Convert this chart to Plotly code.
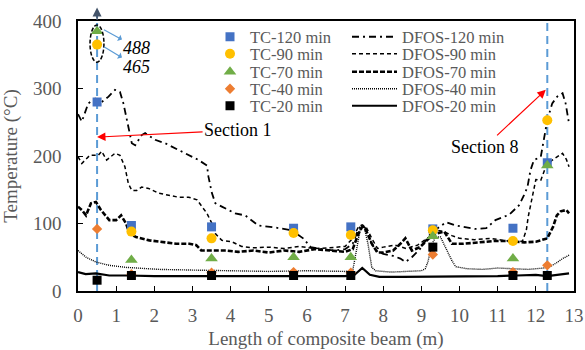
import plotly.graph_objects as go

# ---------------- data ----------------
tc_x = [0.5, 1.4, 3.5, 5.65, 7.15, 9.3, 11.4, 12.3]
tc_120 = [280, 97, 95, 93, 95, 92, 93, 190]
tc_90 = [365, 88, 78, 86, 83, 90, 74, 253]
tc_70 = [385, 46, 48, 50, 50, 81, 48, 186]
tc_40 = [92, 25, 27, 28, 27, 54, 28, 38]
tc_20 = [16, 23, 23, 23, 23, 65, 23, 23]

dfos120_x = [0, 0.1, 0.27, 0.45, 0.58, 0.8, 0.97, 1.1, 1.19, 1.32, 1.41, 1.5, 1.67, 1.76, 2.02, 2.28,
             2.55, 2.81, 3.16, 3.38, 3.42, 3.51, 3.6, 3.77, 4.12, 4.38, 4.73, 5.17, 5.6, 5.9, 6.1, 6.4,
             6.7, 7.0, 7.2, 7.35, 7.45, 7.55, 7.7, 7.8, 8.0, 8.26, 8.45, 8.58, 8.75, 8.96, 9.2, 9.4,
             9.65, 9.9, 10.1, 10.4, 10.7, 10.94, 11.3, 11.56, 11.69, 11.78, 11.86, 11.95, 12.13,
             12.21, 12.3, 12.43, 12.56, 12.7, 12.78, 12.87]
dfos120_y = [262, 251, 278, 285, 278, 288, 298, 295, 278, 243, 219, 216, 231, 234, 224, 219,
             211, 204, 194, 186, 169, 145, 130, 125, 115, 112, 97, 94, 90, 78, 65, 62,
             60, 62, 70, 92, 98, 92, 70, 60, 55, 52, 48, 43, 50, 62, 82, 92,
             102, 97, 95, 92, 93, 105, 113, 127, 142, 154, 179, 194, 199,
             224, 253, 278, 288, 293, 278, 248]

dfos90_x = [0, 0.1, 0.31, 0.53, 0.62, 0.75, 0.97, 1.1, 1.23, 1.32, 1.41, 1.54, 1.67, 1.85, 2.11,
            2.37, 2.63, 2.9, 3.12, 3.25, 3.38, 3.51, 3.6, 3.77, 4.03, 4.29, 4.6, 5.0, 5.4, 5.8, 6.2,
            6.6, 7.0, 7.2, 7.35, 7.45, 7.55, 7.7, 7.85, 8.0, 8.3, 8.6, 8.9, 9.2, 9.4, 9.6, 9.8,
            10.0, 10.4, 10.8, 11.2, 11.5, 11.65, 11.75, 11.8, 11.9, 12.0, 12.13, 12.26, 12.43,
            12.6, 12.7, 12.8, 12.87]
dfos90_y = [199, 189, 201, 201, 207, 194, 204, 201, 184, 159, 149, 149, 154, 152, 145,
            142, 139, 139, 135, 125, 115, 100, 85, 75, 73, 66, 64, 65, 63, 66, 63,
            64, 66, 78, 95, 98, 95, 78, 63, 65, 68, 63, 68, 80, 90, 88, 82,
            78, 76, 78, 74, 72, 74, 90, 110, 140, 165, 164, 184, 194,
            200, 204, 195, 184]

dfos70_x = [0, 0.1, 0.21, 0.34, 0.47, 0.6, 0.82, 1.0, 1.13, 1.26, 1.35, 1.52, 1.87, 2.22, 2.57,
            2.92, 3.1, 3.23, 3.62, 3.88, 4.2, 4.6, 5.0, 5.4, 5.8, 6.2, 6.6, 7.0, 7.2, 7.35, 7.45,
            7.55, 7.7, 7.85, 8.0, 8.26, 8.45, 8.58, 8.75, 8.96, 9.2, 9.4, 9.6, 9.8, 10.1, 10.5,
            10.9, 11.3, 11.7, 12.0, 12.3, 12.45, 12.55, 12.65, 12.8, 12.87]
dfos70_y = [125, 120, 112, 130, 132, 120, 105, 105, 112, 100, 85, 80, 75, 73, 70,
            70, 68, 60, 60, 60, 58, 60, 57, 60, 58, 62, 60, 58, 62, 85, 95,
            90, 70, 57, 57, 60, 70, 78, 60, 65, 78, 85, 88, 70, 70, 72,
            74, 74, 72, 73, 78, 95, 112, 118, 120, 115]

dfos40_x = [0, 0.21, 0.47, 0.82, 1.26, 2.13, 3.0, 3.9, 5.0, 6.0, 7.0, 7.2, 7.3, 7.4, 7.5, 7.6,
            7.7, 7.8, 8.2, 8.6, 9.0, 9.1, 9.17, 9.28, 9.38, 9.5, 9.65, 9.8, 9.9, 10.2, 10.6,
            11.0, 11.4, 11.8, 12.2, 12.4, 12.55, 12.7, 12.87]
dfos40_y = [60, 50, 43, 38, 35, 32, 31, 30, 29, 30, 29, 30, 60, 92, 95, 70,
            35, 30, 28, 29, 30, 33, 43, 70, 80, 80, 62, 45, 36, 33, 32,
            34, 33, 32, 34, 37, 42, 48, 53]

dfos20_x = [0, 0.2, 0.47, 0.82, 1.3, 2.0, 3.0, 4.0, 5.0, 6.0, 7.0, 7.25, 7.45, 7.65, 7.9, 8.5,
            9.0, 9.5, 10.0, 10.5, 11.0, 11.5, 12.0, 12.3, 12.6, 12.87]
dfos20_y = [28, 25, 26, 23, 23, 22, 22, 22, 22, 22, 22, 24, 34, 24, 21, 21,
            21, 22, 22, 22, 22, 23, 24, 22, 24, 26]

section_x = [0.5, 12.3]
x_ticks = list(range(0, 14))
y_ticks = [0, 100, 200, 300, 400]

# ---------------- figure ----------------
FONT = "Liberation Serif"
GREY = "#595959"
W, H = 585, 350
ML, MR, MT, MB = 78, 11, 21, 59
PW, PH = W - ML - MR, H - MT - MB

fig = go.Figure()

line_specs = [
    ("DFOS-120 min", dfos120_x, dfos120_y, dict(color="black", width=1.8, dash="7px,4px,2px,4px")),
    ("DFOS-90 min", dfos90_x, dfos90_y, dict(color="black", width=1.5, dash="4px,3px")),
    ("DFOS-70 min", dfos70_x, dfos70_y, dict(color="black", width=2.6, dash="5px,2px")),
    ("DFOS-40 min", dfos40_x, dfos40_y, dict(color="black", width=1.4, dash="1px,1px")),
    ("DFOS-20 min", dfos20_x, dfos20_y, dict(color="black", width=2.2)),
]
marker_specs = [
    ("TC-120 min", tc_120, dict(symbol="square", color="#4472C4", size=9)),
    ("TC-90 min", tc_90, dict(symbol="circle", color="#FFC000", size=10)),
    ("TC-70 min", tc_70, dict(symbol="triangle-up", color="#70AD47", size=11)),
    ("TC-40 min", tc_40, dict(symbol="diamond", color="#ED7D31", size=8)),
    ("TC-20 min", tc_20, dict(symbol="square", color="black", size=9)),
]

row_y = [37, 54, 72, 89, 106]  # legend rows, px from top

for i, (name, xs, ys, ln) in enumerate(line_specs):
    lg = "legend" + str(2 * i + 2)
    fig.add_trace(go.Scatter(x=xs, y=ys, mode="lines", name=name, line=ln, legend=lg))
for i, (name, ys, mk) in enumerate(marker_specs):
    lg = "legend" if i == 0 else "legend" + str(2 * i + 1)
    fig.add_trace(go.Scatter(x=tc_x, y=ys, mode="markers", name=name, marker=mk, legend=lg))

def px_to_paper(px, py):
    return (px - ML) / PW, (H - MB - py) / PH

legend_layout = {}
for i in range(5):
    tc_key = "legend" if i == 0 else "legend" + str(2 * i + 1)
    df_key = "legend" + str(2 * i + 2)
    common = dict(xref="paper", yref="paper", yanchor="middle", xanchor="left",
                  bgcolor="rgba(0,0,0,0)", borderwidth=0,
                  font=dict(family=FONT, size=16.5, color=GREY))
    xt, yt = px_to_paper(210, row_y[i])
    xd, _ = px_to_paper(347, row_y[i])
    legend_layout[tc_key] = dict(common, x=xt, y=yt, itemwidth=30)
    legend_layout[df_key] = dict(common, x=xd, y=yt, itemwidth=45)

shapes = [
    dict(type="line", xref="x", yref="paper", x0=section_x[0], x1=section_x[0], y0=0, y1=1.045,
         line=dict(color="#5B9BD5", width=2, dash="8px,5px"), layer="below"),
    dict(type="line", xref="x", yref="paper", x0=section_x[1], x1=section_x[1], y0=0, y1=1,
         line=dict(color="#5B9BD5", width=2, dash="8px,5px"), layer="below"),
    dict(type="circle", xref="x", yref="y", x0=0.315, x1=0.68, y0=339, y1=394,
         line=dict(color="black", width=1.5, dash="4px,2px")),
]

annotations = [
    dict(xref="x", yref="paper", x=section_x[0], y=1.05, ax=0, ay=14, text="", showarrow=True,
         arrowhead=2, arrowsize=1.2, arrowwidth=1.5, arrowcolor="#44546A"),
    dict(xref="x", yref="y", x=section_x[0], y=228, ax=141, ay=-7, text="Section 1", showarrow=True,
         arrowhead=2, arrowsize=1.4, arrowwidth=1.2, arrowcolor="#FF0000",
         font=dict(family=FONT, size=18, color="black")),
    dict(xref="x", yref="y", x=12.26, y=298, ax=-61, ay=57, text="Section 8", showarrow=True,
         arrowhead=2, arrowsize=1.4, arrowwidth=1.2, arrowcolor="#FF0000",
         font=dict(family=FONT, size=18, color="black")),
    dict(xref="x", yref="y", x=0.68, y=387, ax=33, ay=18, text="<i>488</i>", showarrow=True,
         arrowside="start", arrowhead=2, arrowsize=1.2, arrowwidth=1.2, arrowcolor="#5B9BD5",
         font=dict(family=FONT, size=18, color="black")),
    dict(xref="x", yref="y", x=0.68, y=362, ax=33, ay=20, text="<i>465</i>", showarrow=True,
         arrowside="start", arrowhead=2, arrowsize=1.2, arrowwidth=1.2, arrowcolor="#5B9BD5",
         font=dict(family=FONT, size=18, color="black")),
]

axis_common = dict(showline=True, linecolor="black", linewidth=1.5, mirror=True, ticks="inside",
                   ticklen=5, tickcolor="black", tickwidth=1.2, showgrid=False, zeroline=False,
                   tickfont=dict(family=FONT, size=19, color=GREY), automargin=False)

fig.update_layout(
    width=W, height=H,
    margin=dict(l=ML, r=MR, t=MT, b=MB, autoexpand=False),
    plot_bgcolor="white", paper_bgcolor="white",
    xaxis=dict(axis_common, range=[0, 13], tickvals=x_ticks, ticklabelstandoff=6,
               title=dict(text="Length of composite beam (m)", standoff=14,
                          font=dict(family=FONT, size=19, color=GREY))),
    yaxis=dict(axis_common, range=[0, 400], tickvals=y_ticks, ticklabelstandoff=11,
               title=dict(text="Temperature (°C)", standoff=11,
                          font=dict(family=FONT, size=19, color=GREY))),
    shapes=shapes,
    annotations=annotations,
    showlegend=True,
    **legend_layout,
)

fig.write_html("out.html", config={"displayModeBar": False},
               post_script="document.body.style.margin='0';")
